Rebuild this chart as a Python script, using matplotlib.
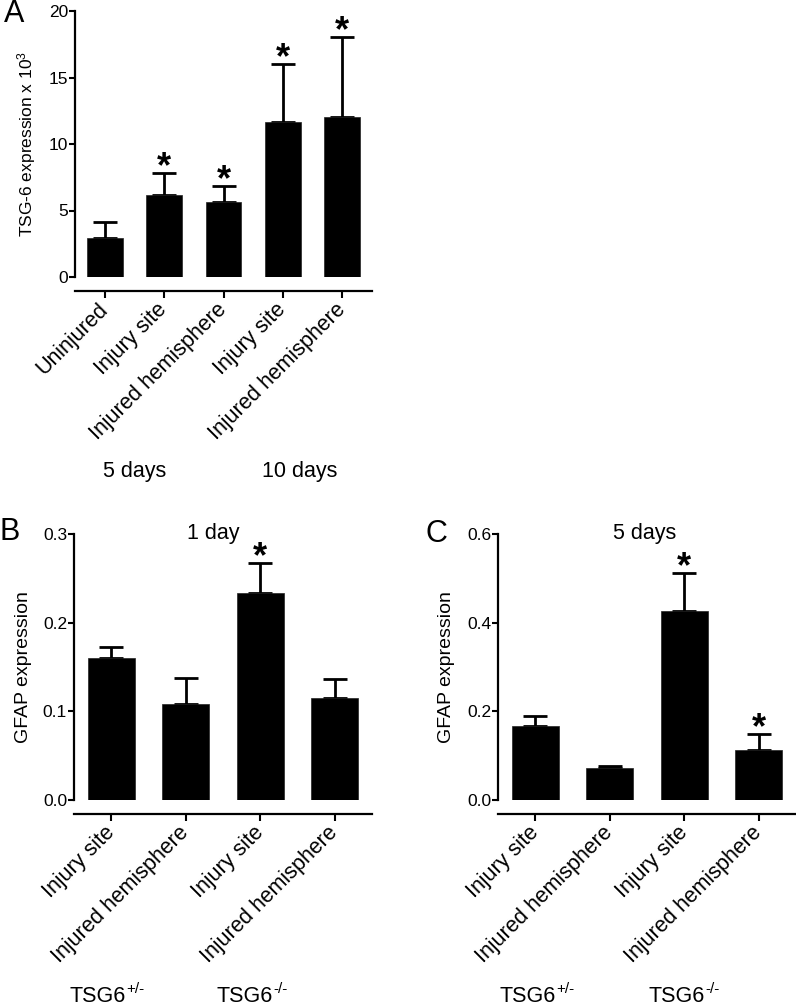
import numpy as np
import matplotlib.pyplot as plt

plt.rcParams['font.family'] = ['Liberation Sans', 'DejaVu Sans']
plt.rcParams['mathtext.fontset'] = 'custom'
plt.rcParams['mathtext.rm'] = 'Liberation Sans'
plt.rcParams['mathtext.it'] = 'Liberation Sans:italic'
plt.rcParams['mathtext.default'] = 'regular'

# Panel A - TSG-6 expression (x 10^3)
a_labels = ['Uninjured', 'Injury site', 'Injured hemisphere', 'Injury site', 'Injured hemisphere']
a_means = [2.9, 6.15, 5.65, 11.65, 12.0]
a_err = [1.25, 1.65, 1.2, 4.35, 6.05]
a_star = [False, True, True, True, True]
a_yticks = [0, 5, 10, 15, 20]

# Panel B - GFAP expression, 1 day
b_labels = ['Injury site', 'Injured hemisphere', 'Injury site', 'Injured hemisphere']
b_means = [0.160, 0.108, 0.234, 0.115]
b_err = [0.013, 0.030, 0.033, 0.021]
b_star = [False, False, True, False]
b_yticks = [0.0, 0.1, 0.2, 0.3]

# Panel C - GFAP expression, 5 days
c_labels = ['Injury site', 'Injured hemisphere', 'Injury site', 'Injured hemisphere']
c_means = [0.167, 0.072, 0.427, 0.113]
c_err = [0.023, 0.004, 0.085, 0.036]
c_star = [False, False, True, True]
c_yticks = [0.0, 0.2, 0.4, 0.6]

W, H = 796, 1008
fig = plt.figure(figsize=(W / 100, H / 100), dpi=100)


def px(l, t, r, b):
    return [l / W, 1 - b / H, (r - l) / W, (b - t) / H]


def draw(ax, labels, means, errs, stars, yticks, fmt, width):
    # spines first: set_position resets the ticks
    for s in ['top', 'right']:
        ax.spines[s].set_visible(False)
    ax.spines['bottom'].set_position(('outward', 10))
    ax.spines['bottom'].set_linewidth(1.6)
    ax.spines['left'].set_linewidth(1.6)

    x = np.arange(len(means))
    ax.bar(x, means, width=width, color='black', edgecolor='#222222', linewidth=0.5, zorder=3)
    ax.errorbar(x, means, yerr=[np.zeros(len(errs)), errs], fmt='none', ecolor='black',
                elinewidth=2, capsize=8.5, capthick=2, zorder=2)
    for xi, m, e, s in zip(x, means, errs, stars):
        if s:
            ax.annotate('*', xy=(xi, m + e), xytext=(0, -3), textcoords='offset points',
                        ha='center', va='baseline', fontsize=26, fontweight='bold',
                        annotation_clip=False)
    ax.set_xlim(-0.5, len(means) - 0.5)
    ax.set_ylim(yticks[0], yticks[-1])
    ax.spines['left'].set_bounds(yticks[0], yticks[-1])
    ax.set_yticks(yticks)
    ax.set_yticklabels([fmt.format(t) for t in yticks])
    ax.set_xticks(x)
    ax.set_xticklabels(labels, rotation=45, ha='right', va='center',
                       rotation_mode='anchor', fontsize=15.5)
    ax.tick_params(axis='y', length=4, width=1.5, labelsize=12.5, pad=1)
    ax.tick_params(axis='x', length=5, width=1.5, pad=6)
    ax.patch.set_visible(False)


axA = fig.add_axes(px(75, 11, 372, 277))
draw(axA, a_labels, a_means, a_err, a_star, a_yticks, '{:.0f}', 0.6)
axA.set_ylabel('TSG-6 expression x 10$^3$', fontsize=12.5)
axA.yaxis.set_label_coords(-0.125, 0.5)

axB = fig.add_axes(px(74, 534, 372, 800))
draw(axB, b_labels, b_means, b_err, b_star, b_yticks, '{:.1f}', 0.63)
axB.set_ylabel('GFAP expression', fontsize=14)
axB.yaxis.set_label_coords(-0.14, 0.5)

axC = fig.add_axes(px(498, 534, 796, 800))
draw(axC, c_labels, c_means, c_err, c_star, c_yticks, '{:.1f}', 0.63)
axC.set_ylabel('GFAP expression', fontsize=14)
axC.yaxis.set_label_coords(-0.145, 0.5)


def ftext(x, y, s, ha='center', **kw):
    fig.text(x / W, 1 - y / H, s, ha=ha, va='center', **kw)


def genotype(x, y, sup):
    # base text ends at x, superscript starts right after it
    ftext(x, y, 'TSG6', ha='right', fontsize=15.5)
    ftext(x, y - 8, sup, ha='left', fontsize=11)


# panel letters
ftext(14, 14, 'A', fontsize=22)
ftext(10, 532, 'B', fontsize=22)
ftext(436, 534, 'C', fontsize=22)

# panel titles
ftext(213, 534, '1 day', fontsize=15.5)
ftext(645, 534, '5 days', fontsize=15.5)

# group labels
ftext(135, 472, '5 days', fontsize=15.5)
ftext(300, 472, '10 days', fontsize=15.5)
genotype(126, 997, '+/-')
genotype(273, 997, '-/-')
genotype(556, 997, '+/-')
genotype(705, 997, '-/-')

fig.savefig('out.png', dpi=100)
